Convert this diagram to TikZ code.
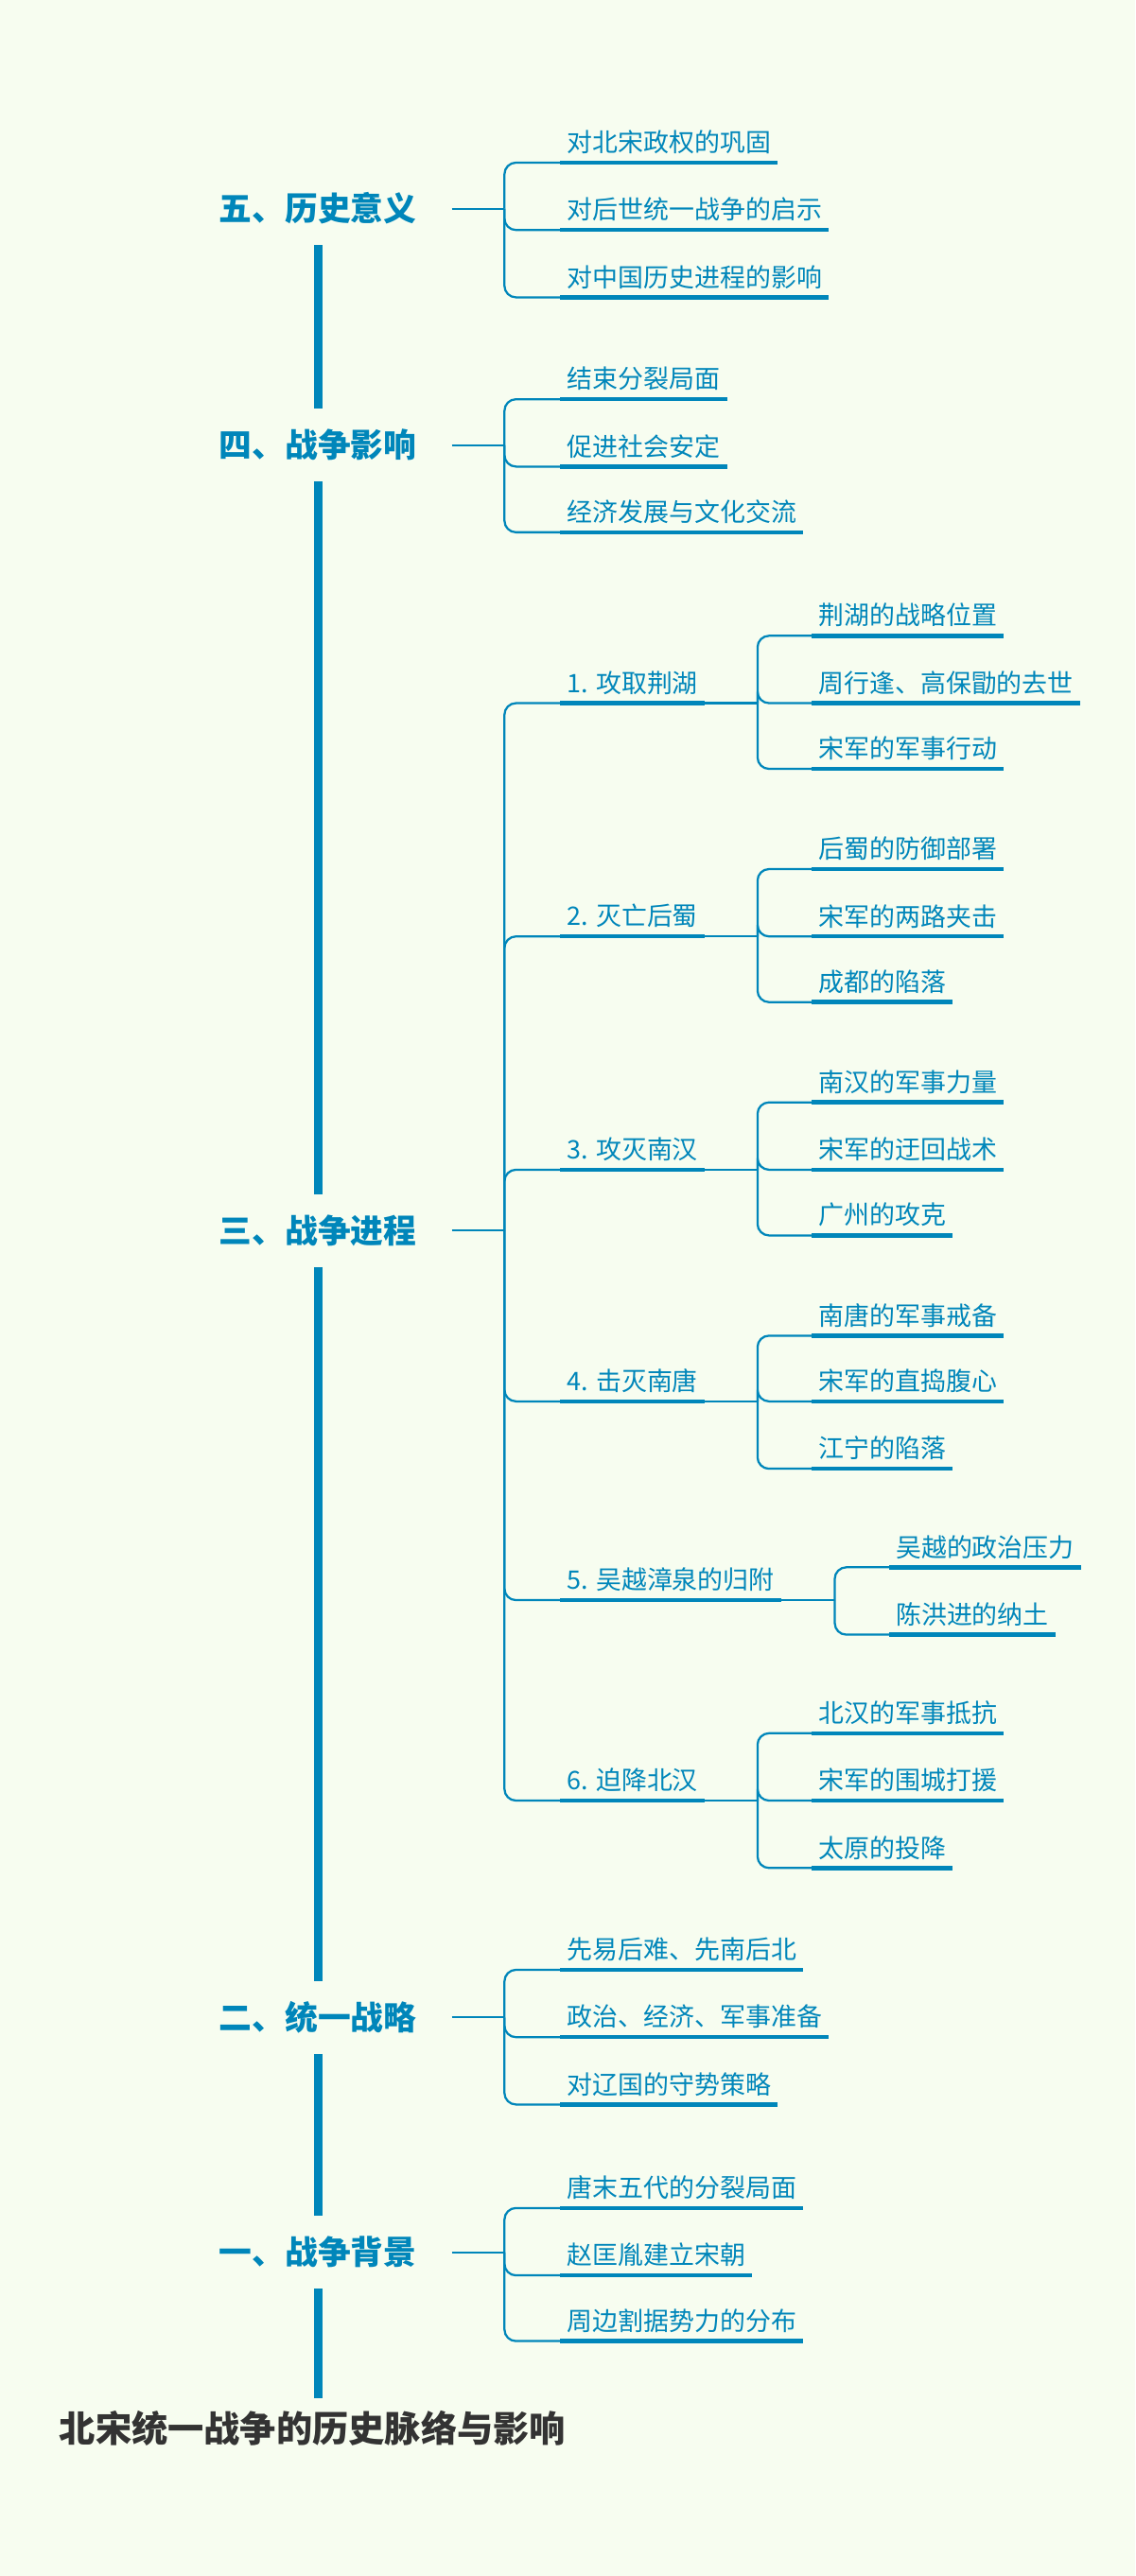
\documentclass[tikz,border=0pt]{standalone}
\usepackage{fontspec}
\setmainfont{Noto Sans CJK SC}
\definecolor{bl}{HTML}{0086BA}
\definecolor{bg}{HTML}{F7FDF0}
\definecolor{tt}{HTML}{333333}
\tikzset{x=1pt,y=-1pt,
 mainn/.style={font=\fontsize{20}{20}\selectfont\bfseries, text=bl, minimum height=44pt, inner sep=0pt},
 leaf/.style={font=\fontsize{15.5}{16}\selectfont, text=bl, anchor=south west, inner xsep=4pt, inner ysep=5pt},
 uline/.style={draw=bl, line width=2.6pt},
 conn/.style={draw=bl, line width=1.3pt, rounded corners=7pt},
 spine/.style={draw=bl, line width=5pt}}
\newcommand{\lf}[4]{% name, x, y(underline), text
 \node[leaf] (#1) at (#2,#3) {#4};
 \draw[uline] (#1.south west) -- (#1.south east);}
\begin{document}
\begin{tikzpicture}
\fill[bg] (0,0) rectangle (691,1568);
\useasboundingbox (0,0) rectangle (691,1568);
% main nodes
\node[mainn] (m5) at (193.5,127) {五、历史意义};
\node[mainn] (m4) at (193.5,271) {四、战争影响};
\node[mainn] (m3) at (193.5,749) {三、战争进程};
\node[mainn] (m2) at (193.5,1228) {二、统一战略};
\node[mainn] (m1) at (193.5,1371) {一、战争背景};
\coordinate (send) at (193.5,1460);
\node[font=\fontsize{22}{22}\selectfont\bfseries, text=tt, anchor=west, inner sep=0pt] (title) at (36,1478) {北宋统一战争的历史脉络与影响};
\draw[spine] (m5.south)--(m4.north) (m4.south)--(m3.north) (m3.south)--(m2.north) (m2.south)--(m1.north) (m1.south)--(send);
% level 1 leaves
\lf{a1}{341}{99}{对北宋政权的巩固}
\lf{a2}{341}{140}{对后世统一战争的启示}
\lf{a3}{341}{181}{对中国历史进程的影响}
\lf{b1}{341}{243}{结束分裂局面}
\lf{b2}{341}{284}{促进社会安定}
\lf{b3}{341}{324}{经济发展与文化交流}
\lf{s1}{341}{428}{1. 攻取荆湖}
\lf{s2}{341}{570}{2. 灭亡后蜀}
\lf{s3}{341}{712}{3. 攻灭南汉}
\lf{s4}{341}{853}{4. 击灭南唐}
\lf{s5}{341}{974}{5. 吴越漳泉的归附}
\lf{s6}{341}{1096}{6. 迫降北汉}
\lf{c1}{341}{1199}{先易后难、先南后北}
\lf{c2}{341}{1240}{政治、经济、军事准备}
\lf{c3}{341}{1281}{对辽国的守势策略}
\lf{d1}{341}{1344}{唐末五代的分裂局面}
\lf{d2}{341}{1385}{赵匡胤建立宋朝}
\lf{d3}{341}{1425}{周边割据势力的分布}
% level 2
\lf{s1a}{494}{387}{荆湖的战略位置}
\lf{s1b}{494}{428}{周行逢、高保勖的去世}
\lf{s1c}{494}{468}{宋军的军事行动}
\lf{s2a}{494}{529}{后蜀的防御部署}
\lf{s2b}{494}{570}{宋军的两路夹击}
\lf{s2c}{494}{610}{成都的陷落}
\lf{s3a}{494}{671}{南汉的军事力量}
\lf{s3b}{494}{712}{宋军的迂回战术}
\lf{s3c}{494}{752}{广州的攻克}
\lf{s4a}{494}{813}{南唐的军事戒备}
\lf{s4b}{494}{853}{宋军的直捣腹心}
\lf{s4c}{494}{894}{江宁的陷落}
\lf{s5a}{541}{954}{吴越的政治压力}
\lf{s5b}{541}{995}{陈洪进的纳土}
\lf{s6a}{494}{1055}{北汉的军事抵抗}
\lf{s6b}{494}{1096}{宋军的围城打援}
\lf{s6c}{494}{1137}{太原的投降}
% connectors main -> leaves
\foreach \p/\kids in {m5/{a1,a2,a3}, m4/{b1,b2,b3}, m3/{s1,s2,s3,s4,s5,s6}, m2/{c1,c2,c3}, m1/{d1,d2,d3}}{
  \draw[draw=bl, line width=1.3pt] (275,0 |- \p.center) -- (307,0 |- \p.center);
  \foreach \k in \kids { \draw[conn] (307,0 |- \p.center) |- (\k.south west); }
}
% sub connectors
\foreach \p/\kids/\bx in {s1/{s1a,s1b,s1c}/461, s2/{s2a,s2b,s2c}/461, s3/{s3a,s3b,s3c}/461, s4/{s4a,s4b,s4c}/461, s5/{s5a,s5b}/508, s6/{s6a,s6b,s6c}/461}{
  \draw[draw=bl, line width=1.3pt] (\p.south east) -- (\bx,0 |- \p.south east);
  \foreach \k in \kids { \draw[conn] (\bx,0 |- \p.south east) |- (\k.south west); }
}
\end{tikzpicture}
\end{document}
